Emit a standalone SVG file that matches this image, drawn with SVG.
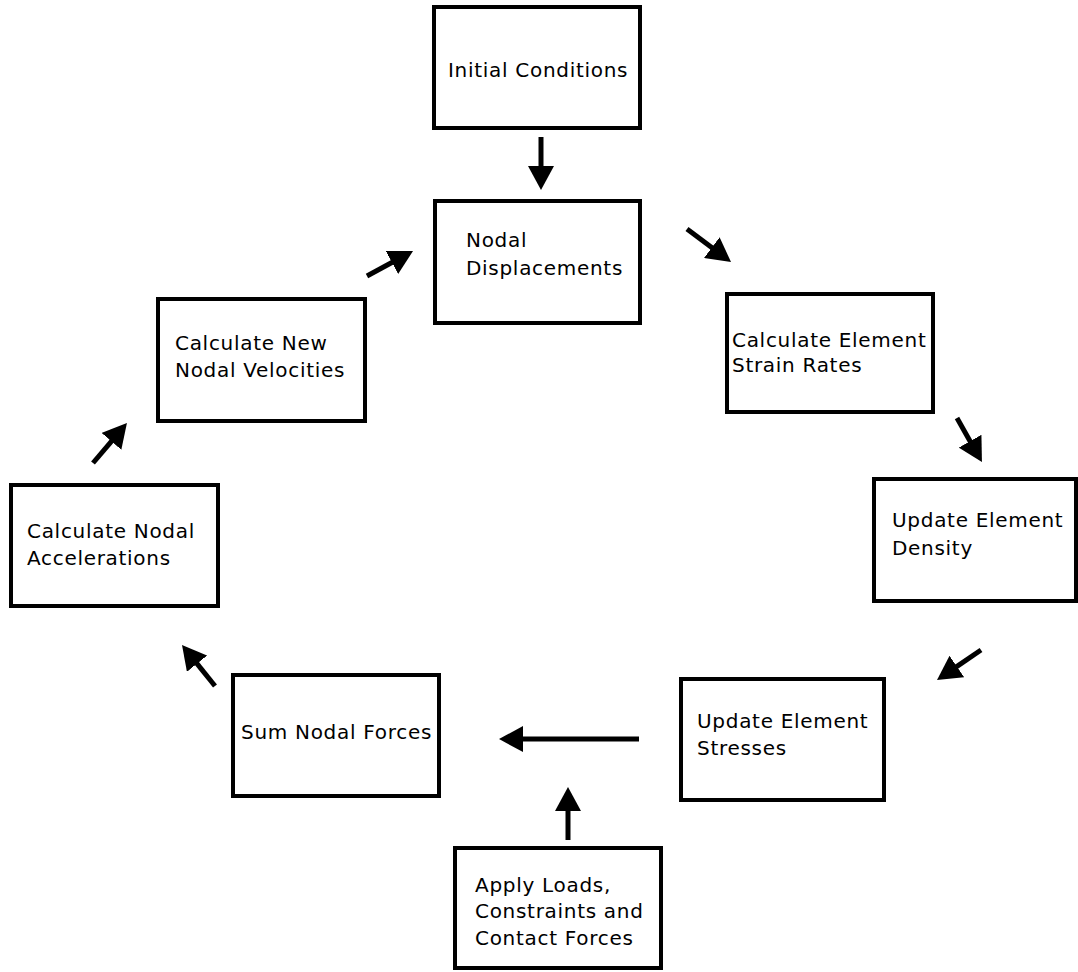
<svg xmlns="http://www.w3.org/2000/svg" width="1078" height="972" viewBox="0 0 1078 972">
<style>
.box{fill:#fff;stroke:#000;stroke-width:4}
.lbl{font-family:"DejaVu Sans",Verdana,sans-serif;font-size:20px;letter-spacing:0.7px;fill:#000}
.arr{stroke:#000;stroke-width:5;fill:none;marker-end:url(#ah)}
</style>
<defs>
<marker id="ah" viewBox="0 0 24 26" refX="2" refY="13" markerWidth="24" markerHeight="26" markerUnits="userSpaceOnUse" orient="auto">
<path d="M0,0 L24,13 L0,26 z" fill="#000"/>
</marker>
</defs>
<rect width="1078" height="972" fill="#fff"/>
<g id="initial"><rect class="box" x="434" y="7" width="206" height="121"/><text class="lbl" x="448" y="77">Initial Conditions</text></g>
<g id="nodal-disp"><rect class="box" x="435" y="201" width="205" height="122"/><text class="lbl" x="466" y="247">Nodal</text><text class="lbl" x="466" y="275">Displacements</text></g>
<g id="strain"><rect class="box" x="727" y="294" width="206" height="118"/><text class="lbl" x="732" y="347">Calculate Element</text><text class="lbl" x="732" y="372">Strain Rates</text></g>
<g id="density"><rect class="box" x="874" y="479" width="202" height="122"/><text class="lbl" x="892" y="527">Update Element</text><text class="lbl" x="892" y="555">Density</text></g>
<g id="stresses"><rect class="box" x="681" y="679" width="203" height="121"/><text class="lbl" x="697" y="728">Update Element</text><text class="lbl" x="697" y="755">Stresses</text></g>
<g id="apply"><rect class="box" x="455" y="848" width="206" height="120"/><text class="lbl" x="475" y="892">Apply Loads,</text><text class="lbl" x="475" y="918">Constraints and</text><text class="lbl" x="475" y="945">Contact Forces</text></g>
<g id="sum"><rect class="box" x="233" y="675" width="206" height="121"/><text class="lbl" x="241" y="739">Sum Nodal Forces</text></g>
<g id="accel"><rect class="box" x="11" y="485" width="207" height="121"/><text class="lbl" x="27" y="538">Calculate Nodal</text><text class="lbl" x="27" y="565">Accelerations</text></g>
<g id="velocities"><rect class="box" x="158" y="299" width="207" height="122"/><text class="lbl" x="175" y="350">Calculate New</text><text class="lbl" x="175" y="377">Nodal Velocities</text></g>
<g id="connectors">
<line class="arr" x1="541" y1="137" x2="541" y2="168"/>
<line class="arr" x1="687" y1="229" x2="713.4" y2="248.8"/>
<line class="arr" x1="957" y1="418" x2="971.1" y2="442.9"/>
<line class="arr" x1="981" y1="650" x2="955.2" y2="667.6"/>
<line class="arr" x1="639" y1="739" x2="521" y2="739"/>
<line class="arr" x1="568" y1="840" x2="568" y2="809"/>
<line class="arr" x1="215" y1="686" x2="195.8" y2="662.1"/>
<line class="arr" x1="93" y1="463" x2="112.7" y2="439.8"/>
<line class="arr" x1="367" y1="276" x2="393.7" y2="261.5"/>
</g>
</svg>
